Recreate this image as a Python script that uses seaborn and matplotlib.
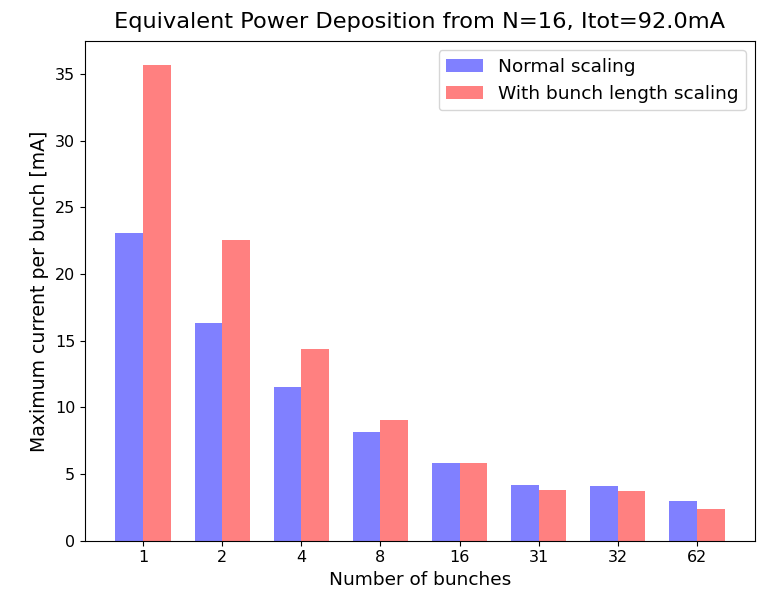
import matplotlib
matplotlib.use("Agg")
import matplotlib.pyplot as plt
import pandas as pd
import seaborn as sns

# Bunch counts and maximum current per bunch [mA]
bunches = ["1", "2", "4", "8", "16", "31", "32", "62"]
normal_scaling = [23.05, 16.3, 11.5, 8.15, 5.82, 4.18, 4.08, 2.97]
length_scaling = [35.7, 22.55, 14.35, 9.07, 5.82, 3.8, 3.7, 2.37]
series_names = ["Normal scaling", "With bunch length scaling"]

df = pd.DataFrame({
    "bunches": bunches * 2,
    "current": normal_scaling + length_scaling,
    "series": [series_names[0]] * len(bunches) + [series_names[1]] * len(bunches),
})

fig = plt.figure(figsize=(7.57, 5.95), dpi=100)
ax = fig.add_axes([85 / 757, 1 - 540.7 / 595, (755 - 85) / 757, (540.7 - 41) / 595])

sns.barplot(
    data=df, x="bunches", y="current", hue="series", order=bunches,
    hue_order=series_names, palette=["#8080ff", "#ff8080"],
    width=0.7, saturation=1, linewidth=0, ax=ax,
)

ax.set_xlim(-0.735, len(bunches) - 1 + 0.735)
ax.set_ylim(0, max(length_scaling) * 1.05)
ax.tick_params(labelsize=11.5)
ax.set_xlabel("Number of bunches", fontsize=13.3)
ax.set_ylabel("Maximum current per bunch [mA]", fontsize=13.6)
ax.set_title("Equivalent Power Deposition from N=16, Itot=92.0mA", fontsize=16.2, pad=9.5)
ax.legend(loc="upper right", fontsize=13.3, title=None)

fig.savefig("out.png", dpi=100)
